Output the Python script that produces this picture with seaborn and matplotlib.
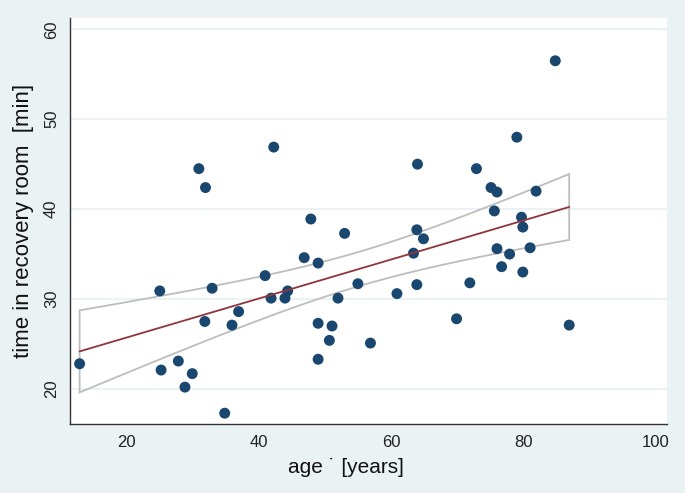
import numpy as np
import pandas as pd
import seaborn as sns
import matplotlib.pyplot as plt

# age [years] and time in recovery room [min]
age = [13.0, 25.1, 25.3, 27.9, 28.9, 30.0, 31.9, 33.0, 34.9, 36.0,
       37.0, 41.9, 44.0, 44.4, 41.0, 46.9, 49.0, 49.0, 49.0, 50.7,
       51.1, 52.0, 42.3, 31.0, 32.0, 47.9, 53.0, 55.0, 71.9, 63.9,
       60.9, 69.9, 56.9, 63.4, 63.9, 64.9, 64.0, 72.9, 75.1, 76.0,
       81.9, 75.6, 79.7, 79.9, 76.0, 77.9, 81.0, 76.7, 79.9, 86.9,
       84.8, 79.0]
recovery = [22.8, 30.9, 22.1, 23.1, 20.2, 21.7, 27.5, 31.2, 17.3, 27.1,
            28.6, 30.1, 30.1, 30.9, 32.6, 34.6, 34.0, 27.3, 23.3, 25.4,
            27.0, 30.1, 46.9, 44.5, 42.4, 38.9, 37.3, 31.7, 31.8, 31.6,
            30.6, 27.8, 25.1, 35.1, 37.7, 36.7, 45.0, 44.5, 42.4, 41.9,
            42.0, 39.8, 39.1, 38.0, 35.6, 35.0, 35.7, 33.6, 33.0, 27.1,
            56.5, 48.0]
x_ticks = [20, 40, 60, 80, 100]
y_ticks = [20, 30, 40, 50, 60]

df = pd.DataFrame({'age': age, 'time': recovery})

# linear fit with 95% CI of the mean prediction (like Stata lfitci)
x = df['age'].to_numpy()
y = df['time'].to_numpy()
n = len(x)
b1, b0 = np.polyfit(x, y, 1)
resid = y - (b0 + b1 * x)
s = np.sqrt(np.sum(resid ** 2) / (n - 2))
sxx = np.sum((x - x.mean()) ** 2)
xg = np.linspace(x.min(), x.max(), 100)
yg = b0 + b1 * xg
se = s * np.sqrt(1.0 / n + (xg - x.mean()) ** 2 / sxx)
tval = 2.0086  # t(0.975, 50)
lo = yg - tval * se
hi = yg + tval * se
fit_df = pd.DataFrame({'age': xg, 'fit': yg})

bg = '#EAF2F3'
sns.set_theme(style="white")
plt.rcParams['font.family'] = ['Liberation Sans', 'DejaVu Sans']
tick_font = ['Liberation Sans Narrow', 'Liberation Sans', 'DejaVu Sans']

fig = plt.figure(figsize=(6.85, 4.93), dpi=100)
fig.patch.set_facecolor(bg)
ax = fig.add_axes([0.1022, 0.140, 0.8715, 0.8235])
ax.set_facecolor('white')

for v in y_ticks:
    ax.axhline(v, color=bg, lw=1.5, zorder=0)

ax.fill(np.concatenate([xg, xg[::-1]]), np.concatenate([hi, lo[::-1]]),
        facecolor='none', edgecolor='#BDBDBD', lw=1.3, zorder=2)
sns.scatterplot(data=df, x='age', y='time', color='#1A476F', s=62,
                edgecolor='none', ax=ax, zorder=3)
sns.lineplot(data=fit_df, x='age', y='fit', color='#90353B', lw=1.3,
             ax=ax, zorder=4)

ax.set_xlim(11.55, 101.66)
ax.set_ylim(16.1, 61.26)
ax.set_xticks(x_ticks)
ax.set_yticks(y_ticks)
ax.set_xticklabels([str(t) for t in x_ticks], family=tick_font)
ax.set_yticklabels([str(t) for t in y_ticks], family=tick_font)
for side in ['top', 'right']:
    ax.spines[side].set_visible(False)
for side in ['left', 'bottom']:
    ax.spines[side].set_color('#333333')
    ax.spines[side].set_linewidth(1.0)
ax.tick_params(axis='both', direction='out', length=5, width=1.0,
               color='#333333', labelsize=12, labelcolor='#222222', pad=3)
ax.tick_params(axis='y', labelrotation=90)
for lab in ax.get_yticklabels():
    lab.set_verticalalignment('center')

ax.set_xlabel('age \u02d9 [years]', fontsize=15, color='#111111')
ax.xaxis.set_label_coords(0.462, -0.083)
ax.set_ylabel('time in recovery room  [min]', fontsize=16, color='#111111',
              labelpad=7)

fig.savefig('out.png', dpi=100, facecolor=bg)
